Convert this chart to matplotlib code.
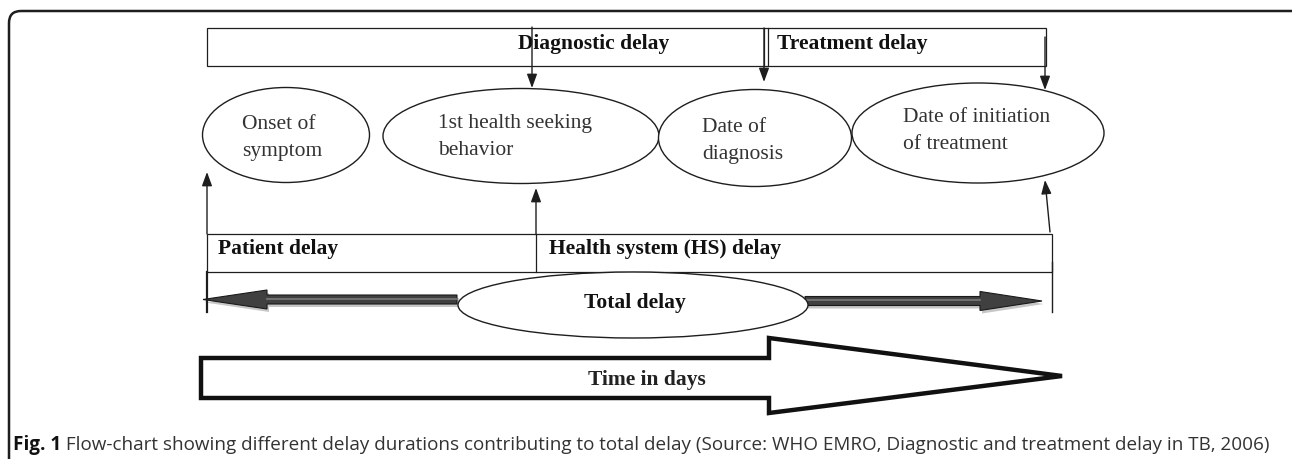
import matplotlib
matplotlib.use("Agg")
import matplotlib.pyplot as plt
import matplotlib.patches as patches

# labels of the diagram
node_labels = ["Onset of\nsymptom", "1st health seeking\nbehavior", "Date of\ndiagnosis",
               "Date of initiation\nof treatment"]
top_labels = ["Diagnostic delay", "Treatment delay"]
mid_labels = ["Patient delay", "Health system (HS) delay"]
total_label = "Total delay"
time_label = "Time in days"
caption_bold = "Fig. 1"
caption_text = (" Flow-chart showing different delay durations contributing to total delay "
                "(Source: WHO EMRO, Diagnostic and treatment delay in TB, 2006)")

# layout in pixel units (x from left, y from top)
node_x = [286, 521, 755, 978]
node_y = [135, 136, 138, 133]
node_w = [167, 276, 193, 252]
node_h = [95, 95, 97, 100]
node_text_x = [242, 438, 702, 903]
node_text_y = [138, 137, 141, 131]

W, H = 1292, 459
ink = "#1e1e1e"
serif = "Liberation Serif"

fig = plt.figure(figsize=(W / 100, H / 100), dpi=100)
ax = fig.add_axes([0, 0, 1, 1])
ax.set_xlim(0, W)
ax.set_ylim(H, 0)
ax.axis("off")

# outer rounded frame
frame = patches.FancyBboxPatch((9, 11), W + 10, H + 30,
                               boxstyle="round,pad=0,rounding_size=12",
                               lw=1.8, edgecolor=ink, facecolor="none")
ax.add_patch(frame)

# top box: diagnostic / treatment delay
ax.add_patch(patches.Rectangle((207, 28), 1046 - 207, 38, lw=0.9, ec=ink, fc="none"))
ax.plot([764, 764], [28, 66], color=ink, lw=0.9)
ax.plot([767.5, 767.5], [28, 66], color=ink, lw=0.9)
ax.text(518, 44, top_labels[0], family=serif, weight="bold", fontsize=15.5,
        color="#111", ha="left", va="center")
ax.text(777, 44, top_labels[1], family=serif, weight="bold", fontsize=15.5,
        color="#111", ha="left", va="center")

# middle box: patient / health system delay
ax.add_patch(patches.Rectangle((207, 234), 1052 - 207, 38, lw=0.9, ec=ink, fc="none"))
ax.plot([536, 536], [234, 272], color=ink, lw=0.9)
ax.text(218, 249, mid_labels[0], family=serif, weight="bold", fontsize=15.5,
        color="#111", ha="left", va="center")
ax.text(549, 249, mid_labels[1], family=serif, weight="bold", fontsize=15.5,
        color="#111", ha="left", va="center")

# end ticks below middle box
ax.plot([207, 207], [272, 312], color=ink, lw=1.6)
ax.plot([1052, 1052], [262, 312], color=ink, lw=1.0)

# ellipses with stage names
for cx, cy, w, h, tx, ty, lab in zip(node_x, node_y, node_w, node_h,
                                     node_text_x, node_text_y, node_labels):
    ax.add_patch(patches.Ellipse((cx, cy), w, h, lw=1.0, ec=ink, fc="white", zorder=2))
    ax.text(tx, ty, lab, family=serif, fontsize=15.5, color="#333333",
            ha="left", va="center", linespacing=1.55, zorder=3)

# thin arrows
def arrow(x0, y0, x1, y1):
    ax.annotate("", xy=(x1, y1), xytext=(x0, y0),
                arrowprops=dict(arrowstyle="-|>,head_length=0.6,head_width=0.22",
                                mutation_scale=14, lw=1.0, color=ink,
                                shrinkA=0, shrinkB=0), zorder=4)

arrow(532, 27, 532, 88)
arrow(764, 28, 764, 82)
arrow(1045, 37, 1045, 90)
arrow(207, 234, 207, 172)
arrow(536, 234, 536, 188)
arrow(1050, 232, 1045, 180)

# thick grey arrows of total delay (with soft shadow)
def fat_arrow(x_tail, x_base, x_tip, yc):
    s, hh = 4.5, 9.5
    pts = [(x_tail, yc - s), (x_base, yc - s), (x_base, yc - hh), (x_tip, yc),
           (x_base, yc + hh), (x_base, yc + s), (x_tail, yc + s)]
    sh = [(x + 2, y + 3) for x, y in pts]
    ax.add_patch(patches.Polygon(sh, closed=True, fc="#b0b0b0", ec="none", alpha=0.7, zorder=1))
    ax.add_patch(patches.Polygon(pts, closed=True, fc="#404040", ec="#1a1a1a", lw=0.8, zorder=1.5))
    ax.plot([x_tail, x_base], [yc - 1, yc - 1], color="#7a7a7a", lw=1.2, zorder=1.6)

fat_arrow(457, 267, 203, 299.5)
fat_arrow(805, 980, 1042, 301)

ax.add_patch(patches.Ellipse((633, 305), 350, 66, lw=1.0, ec=ink, fc="white", zorder=2))
ax.text(635, 303, total_label, family=serif, weight="bold", fontsize=15.5,
        color="#111", ha="center", va="center", zorder=3)

# big hollow arrow for time
time_pts = [(201, 358), (769, 358), (769, 338), (1062, 376), (769, 413), (769, 398), (201, 398)]
ax.add_patch(patches.Polygon(time_pts, closed=True, fc="white", ec="#111", lw=3.2,
                             joinstyle="miter"))
ax.text(647, 380, time_label, family=serif, weight="bold", fontsize=15.5,
        color="#222", ha="center", va="center")

# caption
cap_size = 13.6
t1 = ax.text(13, 445, caption_bold, family="Open Sans", weight="bold", fontsize=cap_size,
             color="#111", ha="left", va="center")
fig.canvas.draw()
bb = t1.get_window_extent()
ax.text(13 + bb.width, 445, caption_text, family="Open Sans", fontsize=cap_size,
        color="#333", ha="left", va="center")

fig.savefig("out.png", dpi=100)
